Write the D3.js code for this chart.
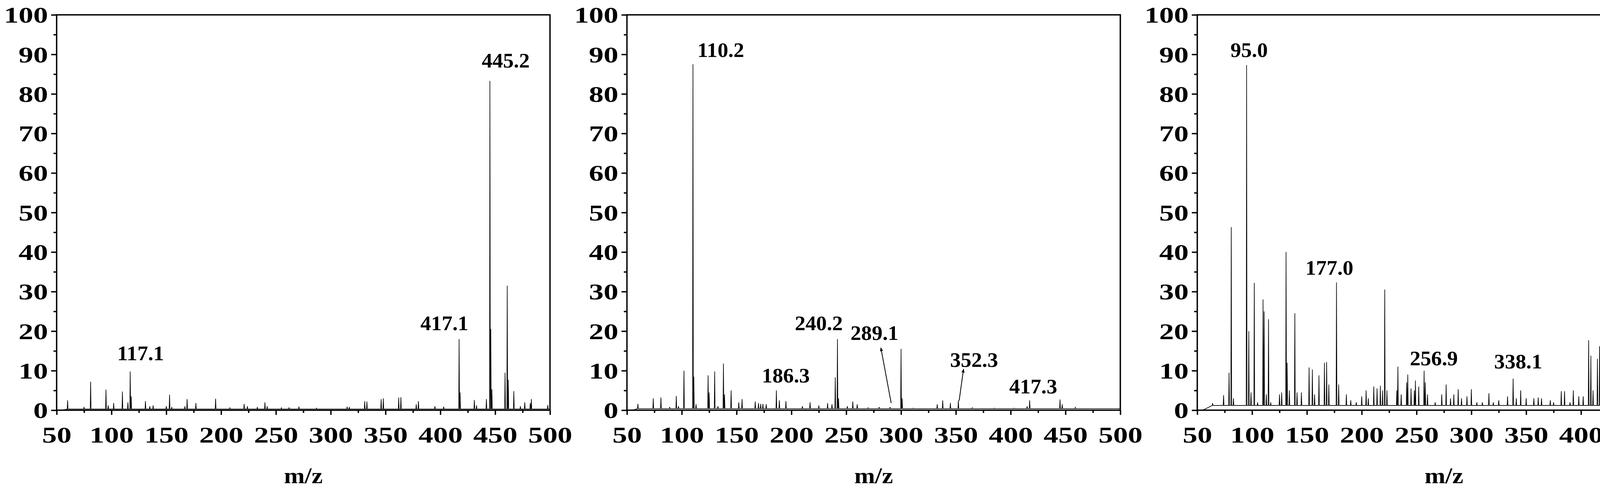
<!DOCTYPE html>
<html><head><meta charset="utf-8">
<script src="https://cdn.jsdelivr.net/npm/d3@7"></script>
<style>html,body{margin:0;background:#fff;overflow:hidden}svg{display:block}text{font-family:"Liberation Serif","Times New Roman",serif;font-weight:bold}</style>
</head><body><svg id="c" width="4380" height="1276"></svg>
<script>
const xTicks=[50,100,150,200,250,300,350,400,450,500];
const yTicks=[0,10,20,30,40,50,60,70,80,90,100];
const peaks1=[[60,2.5],[75,0.8],[81,7.2],[95,5.2],[97,1.2],[102,1.8],[110,4.7],[115,2],[117.1,9.8],[118,3.5],[131,2.3],[135,1],[138,1.2],[150,1],[153,3.9],[155,0.8],[167,1],[169,2.8],[177,1.8],[195,2.9],[208,0.6],[221,1.6],[224,1],[233,0.8],[240,2],[242,1],[255,0.6],[262,0.7],[271,0.9],[287,0.5],[315,0.9],[317,0.8],[331,2.3],[333,2.2],[346,2.8],[348,3],[362,3.2],[364,3.3],[378,1.5],[380,2.3],[395,1],[403,0.9],[417.1,18],[418,4.5],[431,2.6],[433,1.2],[442,2.8],[445.2,83.3],[446,20.5],[447,5.3],[459,9.5],[461,31.5],[462,7.7],[467,4.8],[473,1],[477,2],[482,1.8],[483,2.8],[498,1.3]];
const peaks2=[[60,1.6],[74,3],[81,3.2],[89,0.8],[95,3.6],[97,1],[102,10],[110.2,87.5],[111,8.5],[113,1.5],[124,8.8],[125,4.5],[130,9.8],[133,1],[138,11.8],[139,4],[145,5],[152,2],[155,2.8],[167,2.2],[170,1.8],[172,1.6],[174,1.6],[177,1.5],[186.3,5],[189,2.5],[195,2.3],[210,1],[217,2],[225,1.2],[233,1.8],[237,1.5],[240,8.3],[242,18],[243,3],[251,1],[256,2.2],[260,1.5],[270,0.6],[280,0.8],[290,0.8],[300,15.5],[301,3],[311,0.5],[333,1.5],[338,2.5],[345,1.8],[352.3,2.5],[365,0.6],[385,0.5],[403,0.5],[415,1],[417.3,2.5],[445,2.7],[447,1.5],[459,0.7],[483,0.4]];
const peaks3=[[64,1.8],[74,3.8],[79,9.5],[81,46.3],[83,3],[95,87.3],[97,20],[99,4.5],[102,32.2],[105,2],[110,28],[111,25],[113,4],[115,23],[117,2],[125,4],[127,4.5],[131,40],[132,12],[134,5],[139,24.5],[141,4.5],[145,4.5],[152,10.8],[155,10.3],[157,4],[161,8.8],[166,12],[168,12.2],[170,6.5],[177,32.3],[179,6.5],[186,4],[190,2.5],[195,2],[200,3.5],[204,5],[206,3],[211,6],[214,5.5],[217,6.2],[219,5],[221,30.5],[223,5],[232,5],[233,11],[236,4],[241,7],[242,9],[245,5.5],[248,5],[249,7.5],[252,6],[256.9,10],[258,7],[260,4],[267,2],[273,4],[277,6.5],[281,3],[284,4],[288,5.3],[291,3],[296,3.5],[300,5.3],[305,2],[310,2],[316,4.3],[320,2],[325,2.5],[333,3.5],[338.1,8],[341,3],[345,5],[350,3],[357,3],[361,3.2],[364,3],[372,2.5],[375,2],[382,4.8],[385,4.8],[390,2],[393,5],[398,3.5],[402,3.5],[407,17.7],[409,13.8],[411,5],[415,13],[417,16.2],[420,4],[424,3.5],[425,8.5],[427,16.8],[429,5],[433,7],[438,4],[440,10],[441.2,49.2],[442,13],[444,7],[445,6],[447,23.3],[449,6],[452,8],[454,5],[455,18.5],[457,6],[459,10.5],[462,3],[466,10.3],[468,8],[470,6],[474,3],[478,7],[480,11],[482,17.2],[484,13.8],[486,5],[490,8.5],[493,4],[495,3],[497,23],[498,6]];
const labels1=[["117.1",126.6,12.6],["417.1",403.7,20.2],["445.2",459.6,86.7]];
const labels2=[["110.2",135.6,89.3],["186.3",194.9,7],["240.2",225,20.2],["289.1",275.8,17.8],["352.3",366.6,11],["417.3",420.6,4.2]];
const labels3=[["95.0",97.3,89.3],["177.0",170.5,34.3],["256.9",265.8,11.4],["338.1",342.7,10.6],["441.2",439.7,51.6]];
const arrows2=[[291,1.8,281.6,15.8],[353,2.4,357,10.4]];
const base=[0.3,0.4,1.2];
const panels=[{p:peaks1,l:labels1,a:[],b:base[0]},{p:peaks2,l:labels2,a:arrows2,b:base[1]},{p:peaks3,l:labels3,a:[],b:base[2]}];

function widen(sel,f){sel.each(function(){const w=this.getComputedTextLength();this.setAttribute("textLength",w*f);this.setAttribute("lengthAdjust","spacingAndGlyphs");});}
const svg=d3.select("#c");
svg.append("defs").append("marker").attr("id","ah").attr("viewBox","0 0 10 10").attr("refX",9).attr("refY",5)
 .attr("markerWidth",5).attr("markerHeight",6).attr("orient","auto")
 .append("path").attr("d","M0,1L10,5L0,9Z").attr("fill","#000");
panels.forEach((P,i)=>{
 const ox=i*1460, L=145,R=1408,T=38,B=1051;
 const g=svg.append("g").attr("transform",`translate(${ox},0)`);
 const x=d3.scaleLinear().domain([50,500]).range([L,R]);
 const y=d3.scaleLinear().domain([0,100]).range([B,T]);
 const pts=[[55,0]];
 P.p.slice().sort((a,b)=>a[0]-b[0]).forEach(([m,v])=>{pts.push([m-0.35,P.b],[m,v],[m+0.35,P.b]);});
 pts.push([500,P.b]);
 g.append("path").attr("d",d3.line().x(d=>x(d[0])).y(d=>y(d[1]))(pts)).attr("fill","none").attr("stroke","#000").attr("stroke-width",1.6);
 g.append("rect").attr("x",L).attr("y",T).attr("width",R-L).attr("height",B-T).attr("fill","none").attr("stroke","#000").attr("stroke-width",3.5);
 g.append("g").attr("transform",`translate(0,${B})`).call(d3.axisBottom(x).tickValues(xTicks).tickSize(12).tickPadding(30).tickFormat(d3.format("d")));
 g.append("g").attr("transform",`translate(0,${B})`).call(d3.axisBottom(x).tickValues(d3.range(75,500,50)).tickSize(7).tickFormat(""));
 const ya=g.append("g").attr("transform",`translate(${L},0)`).call(d3.axisLeft(y).tickValues(yTicks).tickSize(14).tickPadding(8));
 g.append("g").attr("transform",`translate(${L},0)`).call(d3.axisLeft(y).tickValues(d3.range(5,100,10)).tickSize(8).tickFormat(""));
 g.selectAll(".domain").remove();
 g.selectAll(".tick line").attr("stroke-width",3.5);
 const tt=g.selectAll(".tick text").attr("font-size",58).attr("fill","#000").style("font-family",'"Liberation Serif",serif').style("font-weight","bold");
 ya.selectAll(".tick text").attr("dy","0.34em");
 widen(tt,1.3);
 const mz=g.append("text").attr("x",(L+R)/2).attr("y",1238).attr("text-anchor","middle").attr("font-size",58).text("m/z");
 widen(mz,1.1);
 P.l.forEach(([t,m,v])=>{const e=g.append("text").attr("x",x(m)).attr("y",y(v)).attr("text-anchor","middle").attr("font-size",52).text(t);widen(e,1.05);});
 P.a.forEach(([m1,v1,m2,v2])=>g.append("line").attr("x1",x(m1)).attr("y1",y(v1)).attr("x2",x(m2)).attr("y2",y(v2)).attr("stroke","#000").attr("stroke-width",2).attr("marker-end","url(#ah)"));
});
</script></body></html>
